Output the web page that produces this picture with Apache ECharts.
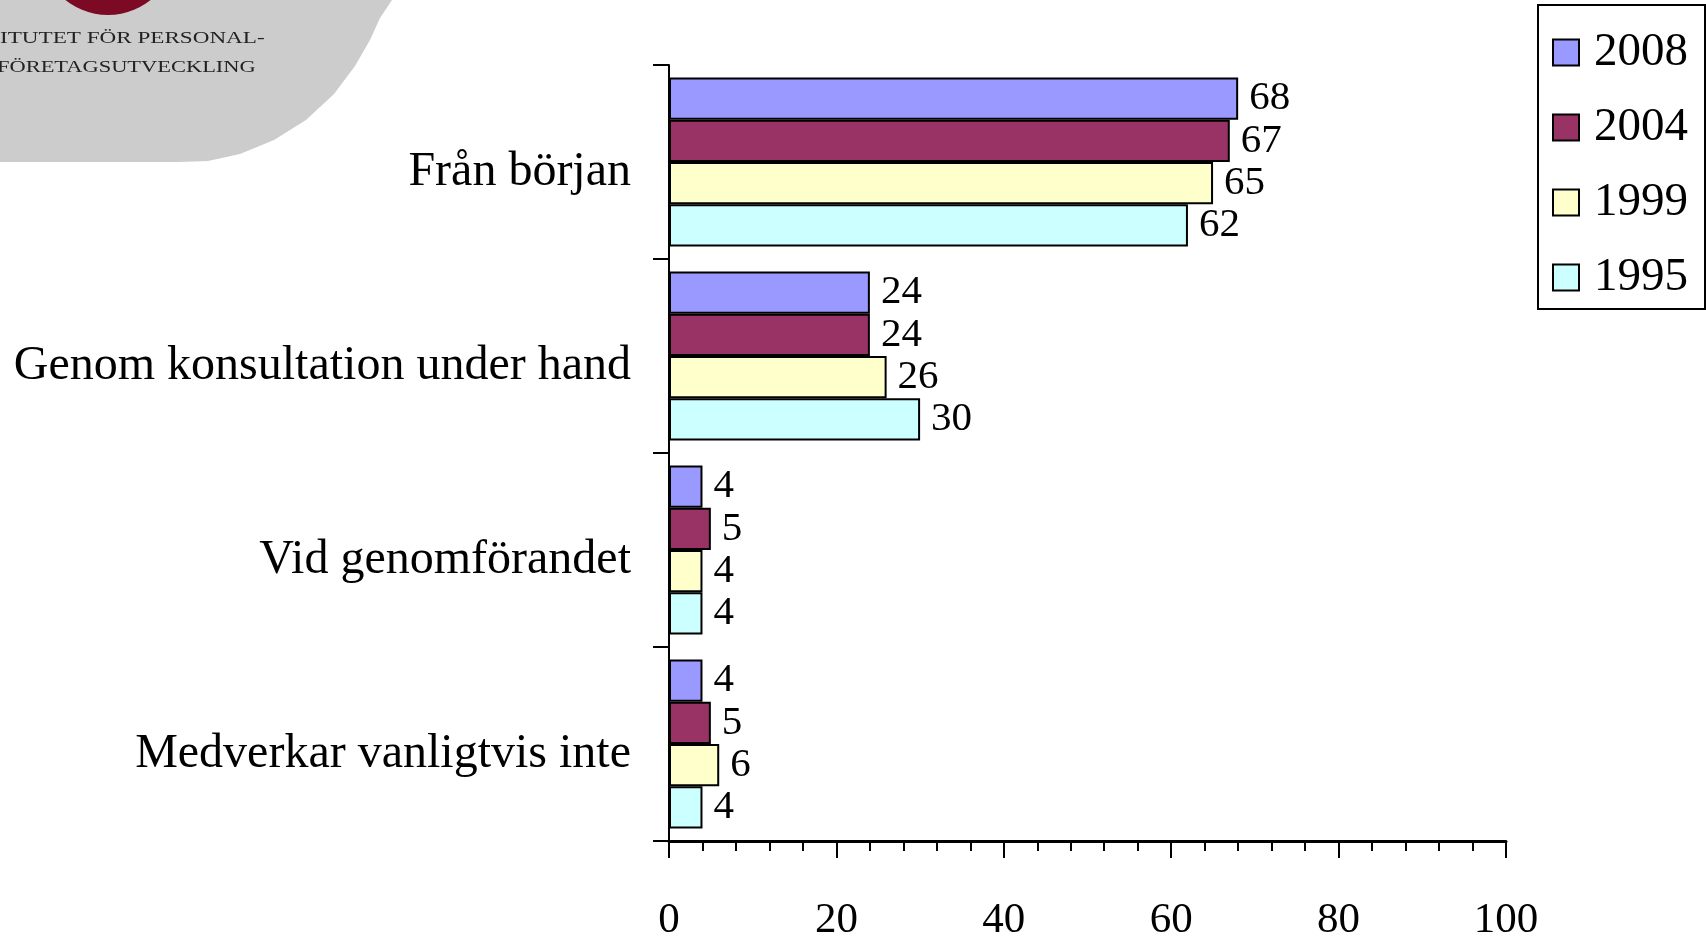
<!DOCTYPE html>
<html>
<head>
<meta charset="utf-8">
<script src="https://cdn.jsdelivr.net/npm/echarts@6/dist/echarts.min.js"></script>
<style>
  html, body { margin: 0; padding: 0; background: #fff; }
  #main { width: 1706px; height: 942px; }
</style>
</head>
<body>
<div id="main"></div>
<script>
var categories = ['Från början', 'Genom konsultation under hand', 'Vid genomförandet', 'Medverkar vanligtvis inte'];
var years = ['2008', '2004', '1999', '1995'];
var values2008 = [68, 24, 4, 4];
var values2004 = [67, 24, 5, 5];
var values1999 = [65, 26, 4, 6];
var values1995 = [62, 30, 4, 4];
var colors = ['#9999ff', '#993366', '#ffffcc', '#ccffff'];

var serif = '"Liberation Serif", "Times New Roman", serif';
var myChart = echarts.init(document.getElementById('main'));

// outline of the grey logo shape in the top-left corner
var logoShape = [[0, 0], [392, 0], [380, 18], [370, 40], [355, 66], [334, 94], [306, 120],
    [274, 140], [240, 154], [208, 161], [178, 162], [0, 162]];

function makeSeries(name, data, color) {
    return {
        name: name,
        type: 'bar',
        data: data,
        barGap: '0%',
        barCategoryGap: '13%',
        itemStyle: { color: color, borderColor: '#000', borderWidth: 2 },
        label: {
            show: true,
            position: 'right',
            distance: 11,
            color: '#000',
            fontFamily: serif,
            fontSize: 41
        }
    };
}

var option = {
    animation: false,
    backgroundColor: '#fff',
    graphic: [
        {
            type: 'polygon',
            shape: { points: logoShape },
            style: { fill: '#cccccc' },
            z: -1
        },
        {
            type: 'circle',
            shape: { cx: 108, cy: -53, r: 68 },
            style: { fill: '#7d0a25' }
        },
        {
            type: 'text',
            x: 0, y: 30, scaleX: 1.36,
            style: { text: 'ITUTET FÖR PERSONAL-', fill: '#222', font: '17px ' + serif }
        },
        {
            type: 'text',
            x: -3, y: 59, scaleX: 1.32,
            style: { text: 'FÖRETAGSUTVECKLING', fill: '#222', font: '17px ' + serif }
        }
    ],
    legend: {
        orient: 'vertical',
        left: 1538,
        top: 5,
        data: years,
        icon: 'rect',
        padding: [24, 17, 8, 14],
        itemGap: 28,
        itemWidth: 26,
        itemHeight: 26,
        borderColor: '#000',
        borderWidth: 2,
        textStyle: { fontFamily: serif, fontSize: 47, color: '#000', padding: [0, 0, 0, 10] }
    },
    grid: { left: 669, right: 200, top: 65, bottom: 99, containLabel: false },
    xAxis: {
        type: 'value',
        min: 0,
        max: 100,
        interval: 20,
        axisLine: { show: true, lineStyle: { color: '#000', width: 3 } },
        axisTick: { show: true, inside: false, length: 17, lineStyle: { color: '#000', width: 2 } },
        minorTick: { show: true, splitNumber: 5, length: 10, lineStyle: { color: '#000', width: 2 } },
        splitLine: { show: false },
        axisLabel: { color: '#000', fontFamily: serif, fontSize: 43, margin: 58 }
    },
    yAxis: {
        type: 'category',
        inverse: true,
        data: categories,
        axisLine: { show: true, lineStyle: { color: '#000', width: 2 } },
        axisTick: { show: true, length: 16, lineStyle: { color: '#000', width: 2 } },
        axisLabel: {
            color: '#000', fontFamily: serif, fontSize: 48, margin: 38,
            verticalAlign: 'top', lineHeight: 20
        }
    },
    series: [
        makeSeries(years[0], values2008, colors[0]),
        makeSeries(years[1], values2004, colors[1]),
        makeSeries(years[2], values1999, colors[2]),
        makeSeries(years[3], values1995, colors[3])
    ]
};
myChart.setOption(option);
</script>
</body>
</html>
